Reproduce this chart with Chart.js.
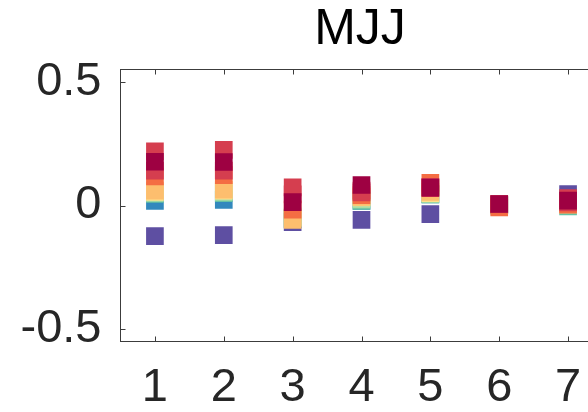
<!DOCTYPE html>
<html>
<head>
<meta charset="utf-8">
<script src="https://cdn.jsdelivr.net/npm/chart.js@4/dist/chart.umd.min.js"></script>
<style>
  html, body { margin: 0; padding: 0; background: #fff; overflow: hidden; }
  #wrap { width: 588px; height: 412px; overflow: hidden; }
  canvas { display: block; }
</style>
</head>
<body>
<div id="wrap"><canvas id="c" width="720" height="412"></canvas></div>
<script>
// Categories along the x axis and the tick values of both axes
const categories = [1, 2, 3, 4, 5, 6, 7];
const xTicks = [1, 2, 3, 4, 5, 6, 7];
const yTicks = [-0.5, 0, 0.5];

// One value per category for each member (drawn in this order, last on top)
const purple      = [-0.124, -0.120, -0.067, -0.058, -0.035,  0.000,  0.046];
const blue        = [ 0.019,  0.023, -0.055,  0.019,  0.045,  0.002,  0.005];
const teal        = [ 0.047,  0.050, -0.050,  0.019,  0.045,  0.002, -0.004];
const green       = [ 0.051,  0.055, -0.045,  0.025,  0.047,  0.003,  0.003];
const yellow      = [ 0.055,  0.060, -0.050,  0.033,  0.050,  0.004,  0.004];
const lightOrange = [ 0.060,  0.064, -0.058,  0.035,  0.055,  0.004,  0.006];
const orange      = [ 0.118,  0.123, -0.017,  0.042,  0.092, -0.008,  0.003];
const redA        = [ 0.141,  0.141,  0.045,  0.053,  0.070,  0.005,  0.012];
const redB        = [ 0.219,  0.225,  0.073,  0.060,  0.075,  0.006,  0.030];
const maroon      = [ 0.177,  0.176,  0.014,  0.083,  0.072,  0.006,  0.020];

const members = [
  { name: 'm1',  values: purple,      color: '#5e4fa2' },
  { name: 'm2',  values: blue,        color: '#3288bd' },
  { name: 'm3',  values: teal,        color: '#66c2a5' },
  { name: 'm4',  values: green,       color: '#abdda4' },
  { name: 'm5',  values: yellow,      color: '#fee08b' },
  { name: 'm6',  values: lightOrange, color: '#fdbe6e' },
  { name: 'm7',  values: orange,      color: '#f46d43' },
  { name: 'm8',  values: redA,        color: '#d53e4f' },
  { name: 'm9',  values: redB,        color: '#d53e4f' },
  { name: 'm10', values: maroon,      color: '#9e0142' }
];

const N = members.length;
const datasets = members.map((m, i) => ({
  label: m.name,
  data: categories.map((c, k) => ({ x: c, y: m.values[k] })),
  backgroundColor: m.color,
  borderColor: m.color,
  borderWidth: 0,
  pointStyle: 'rect',
  pointRadius: 12.5,
  pointHoverRadius: 12.5,
  order: N - i          // later members are painted over earlier ones
}));

const AXIS_COLOR = '#3c3c3c';
const TICK_FONT = { family: 'Liberation Sans, Arial, Helvetica, sans-serif', size: 47 };

// Box outline with inward tick marks on all four sides
const boxFrame = {
  id: 'boxFrame',
  afterDraw(chart) {
    const { ctx, chartArea: a, scales } = chart;
    const len = 5;
    ctx.save();
    ctx.strokeStyle = AXIS_COLOR;
    ctx.lineWidth = 1;
    ctx.strokeRect(a.left, a.top, a.right - a.left, a.bottom - a.top);
    ctx.beginPath();
    scales.x.ticks.forEach(t => {
      const px = Math.round(scales.x.getPixelForValue(t.value)) + 0.5;
      ctx.moveTo(px, a.bottom); ctx.lineTo(px, a.bottom - len);
      ctx.moveTo(px, a.top);    ctx.lineTo(px, a.top + len);
    });
    scales.y.ticks.forEach(t => {
      const py = Math.round(scales.y.getPixelForValue(t.value)) + 0.5;
      ctx.moveTo(a.left, py);  ctx.lineTo(a.left + len, py);
      ctx.moveTo(a.right, py); ctx.lineTo(a.right - len, py);
    });
    ctx.stroke();
    ctx.restore();
  }
};

new Chart(document.getElementById('c'), {
  type: 'scatter',
  data: { datasets },
  plugins: [boxFrame],
  options: {
    responsive: false,
    animation: false,
    devicePixelRatio: 1,
    layout: { padding: 0 },
    plugins: {
      legend: { display: false },
      tooltip: { enabled: false },
      title: {
        display: true,
        text: 'MJJ',
        color: '#000',
        font: { family: 'Liberation Sans, Arial, Helvetica, sans-serif', size: 50, weight: 'normal', lineHeight: 1.2 },
        padding: { top: 0, bottom: 9.5 }
      }
    },
    scales: {
      x: {
        type: 'linear',
        position: 'bottom',
        min: 0.5,
        max: 7.5,
        afterBuildTicks: s => { s.ticks = xTicks.map(v => ({ value: v })); },
        afterFit: s => { s.height = 70.5; },
        grid: { display: false, drawTicks: false },
        border: { display: false },
        ticks: { color: '#262626', font: TICK_FONT, padding: 18, maxRotation: 0, callback: v => String(v) }
      },
      y: {
        type: 'linear',
        position: 'left',
        min: -0.55,
        max: 0.55,
        afterBuildTicks: s => { s.ticks = yTicks.map(v => ({ value: v })); },
        afterFit: s => { s.width = 120.5; },
        grid: { display: false, drawTicks: false },
        border: { display: false },
        ticks: { color: '#262626', font: TICK_FONT, padding: 19, callback: v => String(v) }
      },
      yRight: {
        type: 'linear',
        position: 'right',
        min: -0.55,
        max: 0.55,
        afterFit: s => { s.width = 117.5; },
        grid: { display: false, drawTicks: false },
        border: { display: false },
        ticks: { display: false }
      }
    }
  }
});
</script>
</body>
</html>
